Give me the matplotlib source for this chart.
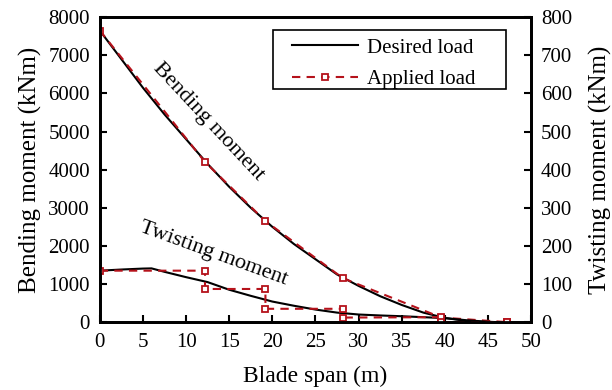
import matplotlib
matplotlib.use("Agg")
import matplotlib.pyplot as plt
from matplotlib.patches import Rectangle

plt.rcParams['font.family'] = ['Liberation Serif', 'DejaVu Serif']

# desired load
span_bend = [0, 2.5, 5, 7.5, 10, 12.5, 15, 17.5, 20, 22.5, 25, 27.5, 30, 32.5, 35, 37.5, 40, 42.5, 45]
bend_desired = [7650, 6900, 6150, 5450, 4800, 4150, 3550, 3000, 2500, 2050, 1650, 1250, 950, 680, 450, 250, 110, 30, 0]

span_twist = [0, 2.5, 5, 6, 7.5, 10, 12.5, 15, 17.5, 20, 22.5, 25, 27.5, 30, 32.5, 35, 37.5, 40, 42.5, 45, 46]
twist_desired = [135, 138, 140.5, 141, 132, 118, 105, 85, 69, 54, 43, 33, 25, 20, 17.5, 15.5, 13, 10.5, 5, 1, 0]

# applied load
span_bend_app = [0, 12.2, 19.2, 28.2, 39.6, 47.2]
bend_applied = [7650, 4200, 2650, 1150, 120, 0]

span_twist_app = [0, 12.2, 12.2, 19.2, 19.2, 28.2, 28.2, 39.6, 39.6, 47.2]
twist_applied = [135, 135, 87, 87, 35, 35, 12, 13, 0, 0]

red = '#b5121b'

fig = plt.figure(figsize=(6.12, 3.9), dpi=100)
ax = fig.add_axes([0.163, 0.174, 0.705, 0.782])
ax2 = ax.twinx()

ax.plot(span_bend, bend_desired, color='black', lw=1.5, label='Desired load')
ax.plot(span_bend_app, bend_applied, color=red, ls='--', lw=1.5, marker='s',
        ms=4.5, mfc='white', mec=red, mew=1.3, label='Applied load', dashes=(4, 3))
ax2.plot(span_twist, twist_desired, color='black', lw=1.5)
ax2.plot(span_twist_app, twist_applied, color=red, ls='--', lw=1.5, marker='s',
         ms=4.5, mfc='white', mec=red, mew=1.3, dashes=(4, 3))

ax.set_xlim(0, 50)
ax.set_ylim(0, 8000)
ax2.set_ylim(0, 800)
ax.set_xticks(range(0, 51, 5))
ax.set_yticks(range(0, 8001, 1000))
ax2.set_yticks(range(0, 801, 100))

for a in (ax, ax2):
    for s in a.spines.values():
        s.set_linewidth(2)
    a.tick_params(direction='in', length=5, width=1.5, labelsize=15, pad=7)
ax.tick_params(axis='x', pad=8)

ax.set_xlabel('Blade span (m)', fontsize=17, labelpad=10)
ax.set_ylabel('Bending moment (kNm)', fontsize=18, labelpad=4.5)
ax2.set_ylabel('Twisting moment (kNm)', fontsize=18, labelpad=12)

ax.text(12.6, 5250, 'Bending moment', rotation=-47, fontsize=16,
        ha='center', va='center')
ax.text(13.2, 1790, 'Twisting moment', rotation=-20, fontsize=16,
        ha='center', va='center')

# legend box is wider on the right than the entries, like the original
ax2.add_patch(Rectangle((0.401, 0.764), 0.541, 0.193, transform=ax.transAxes,
                        facecolor='white', edgecolor='black', lw=1.2, zorder=5))
leg = ax2.legend(*ax.get_legend_handles_labels(), loc='center left',
                 bbox_to_anchor=(0.445, 0.847), fontsize=15, frameon=False,
                 handlelength=3.2, handletextpad=0.4, borderpad=0,
                 borderaxespad=0, labelspacing=0.58)
leg.set_zorder(6)

fig.savefig('out.png', dpi=100)
